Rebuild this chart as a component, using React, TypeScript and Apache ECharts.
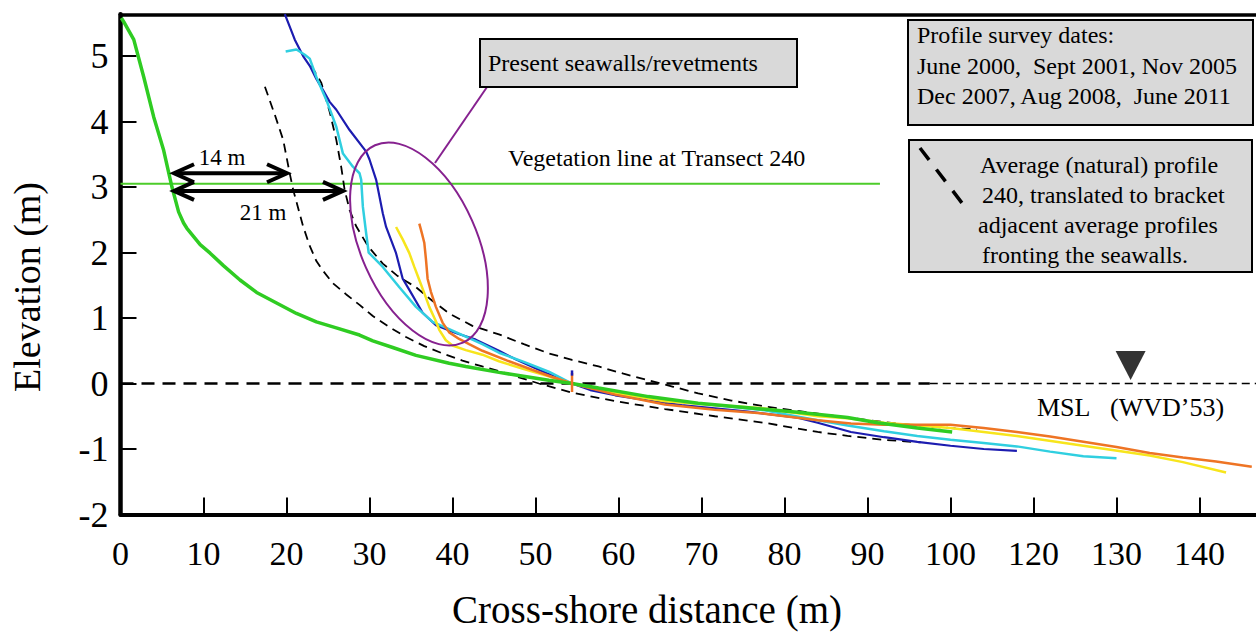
import React, { useEffect, useRef } from "react";
import * as echarts from "echarts";

// ---------- tick labels ----------
const xTickLabels = ["0", "10", "20", "30", "40", "50", "60", "70", "80", "90", "100", "120", "130", "140"];

// ---------- profiles (cross-shore distance m, elevation m) ----------
const greenProfile: number[][] = [
  [0.1, 5.58], [0.4, 5.52], [1.6, 5.25], [2.8, 4.68], [4.0, 4.07], [5.2, 3.56], [6.2, 3.0], [7.0, 2.62],
  [7.6, 2.45], [8.0, 2.37], [9.6, 2.12], [10.8, 1.99], [12.4, 1.8], [14.4, 1.58], [16.4, 1.39], [18.8, 1.23],
  [21.2, 1.07], [23.6, 0.94], [26.0, 0.85], [28.8, 0.74], [30.4, 0.65], [32.8, 0.55], [35.6, 0.43], [39.6, 0.31],
  [41.6, 0.26], [45.6, 0.17], [47.6, 0.13], [51.6, 0.05], [54.4, 0.0], [57.6, -0.07], [63.6, -0.2], [69.6, -0.3],
  [75.6, -0.37], [81.6, -0.44], [87.6, -0.52], [91.2, -0.6], [96.0, -0.68], [100.2, -0.74],
];

const blueProfile: number[][] = [
  [19.8, 5.64], [21.0, 5.25], [22.0, 5.0], [22.8, 4.85], [23.6, 4.65], [24.4, 4.48], [25.2, 4.3], [26.0, 4.18],
  [27.6, 3.87], [29.6, 3.54], [30.0, 3.42], [30.8, 3.11], [31.6, 2.6], [32.0, 2.39], [33.2, 1.99], [34.0, 1.6],
  [34.8, 1.43], [36.4, 1.08], [38.0, 0.89], [40.4, 0.77], [42.8, 0.67], [45.6, 0.5], [47.6, 0.37], [50.4, 0.21],
  [52.4, 0.1], [54.4, 0.0], [56.6, -0.1], [59.6, -0.18], [63.6, -0.26], [67.6, -0.33], [71.6, -0.38], [75.6, -0.43],
  [81.6, -0.52], [84.0, -0.6], [88.0, -0.74], [92.0, -0.82], [96.0, -0.89], [100.0, -0.95], [104.0, -1.0], [108.0, -1.03],
];

const cyanProfile: number[][] = [
  [19.9, 5.07], [21.2, 5.1], [22.2, 5.02], [22.8, 4.96], [23.6, 4.68], [24.8, 4.33], [26.0, 3.92], [26.8, 3.51],
  [28.0, 3.31], [28.8, 3.21], [29.0, 3.11], [29.2, 2.7], [29.6, 2.29], [29.9, 2.0], [31.6, 1.78], [33.6, 1.47],
  [35.6, 1.17], [37.6, 0.94], [39.6, 0.83], [43.6, 0.6], [45.6, 0.47], [48.6, 0.33], [51.6, 0.18], [54.4, 0.0],
  [59.6, -0.15], [65.6, -0.26], [71.6, -0.33], [77.6, -0.41], [84.0, -0.56], [87.6, -0.64], [92.0, -0.73],
  [96.0, -0.8], [100.0, -0.86], [104.0, -0.91], [108.0, -0.96], [112.0, -1.04], [116.0, -1.11], [120.0, -1.14],
];

const yellowProfile: number[][] = [
  [33.2, 2.39], [34.0, 2.2], [34.8, 1.99], [35.4, 1.78], [36.0, 1.58], [36.6, 1.38], [37.2, 1.17], [38.0, 0.95],
  [38.4, 0.82], [39.2, 0.66], [40.0, 0.58], [41.6, 0.51], [43.6, 0.44], [45.6, 0.34], [48.6, 0.22], [51.6, 0.11],
  [54.4, 0.0], [59.6, -0.14], [65.6, -0.27], [71.6, -0.33], [77.6, -0.38], [84.0, -0.5], [87.6, -0.53], [92.0, -0.6],
  [100.0, -0.68], [108.0, -0.8], [116.0, -0.95], [124.0, -1.1], [128.0, -1.2], [133.2, -1.36],
];

const orangeProfile: number[][] = [
  [36.0, 2.44], [36.3, 2.3], [36.6, 2.15], [36.8, 1.9], [37.0, 1.6], [37.4, 1.4], [38.0, 1.17], [38.8, 0.93],
  [39.6, 0.78], [40.8, 0.68], [42.0, 0.6], [43.6, 0.5], [46.6, 0.35], [49.6, 0.21], [52.0, 0.1], [54.4, 0.0],
  [59.6, -0.17], [65.6, -0.32], [71.6, -0.4], [77.6, -0.46], [84.0, -0.56], [88.0, -0.61], [92.0, -0.63],
  [96.0, -0.63], [100.0, -0.63], [104.0, -0.68], [108.0, -0.74], [112.0, -0.81], [116.0, -0.89], [120.0, -0.97],
  [124.0, -1.06], [128.0, -1.13], [132.0, -1.19], [136.3, -1.27],
];

// average (natural) profile 240, translated (dashed)
const dashedLower: number[][] = [
  [17.4, 4.53], [18.6, 4.1], [19.6, 3.72], [20.4, 3.2], [20.8, 2.96], [22.0, 2.4], [22.8, 2.1], [23.6, 1.87],
  [24.4, 1.72], [25.6, 1.53], [27.2, 1.36], [28.8, 1.2], [30.4, 1.03], [32.4, 0.86], [34.4, 0.71], [36.6, 0.57],
  [38.8, 0.46], [41.2, 0.35], [43.6, 0.26], [45.6, 0.19], [50.4, 0.0], [54.4, -0.14], [59.6, -0.27], [65.6, -0.39],
  [71.6, -0.5], [77.6, -0.6], [84.0, -0.74], [87.6, -0.8], [92.0, -0.86], [96.4, -0.9],
];

const dashedUpper: number[][] = [
  [23.0, 4.85], [24.2, 4.59], [25.2, 4.15], [26.0, 3.72], [26.6, 3.3], [27.0, 2.96], [27.6, 2.65], [28.4, 2.4],
  [29.8, 2.1], [31.6, 1.83], [33.4, 1.64], [35.6, 1.47], [37.6, 1.26], [39.6, 1.07], [42.4, 0.88], [45.6, 0.75],
  [48.6, 0.6], [51.6, 0.46], [54.4, 0.36], [57.6, 0.26], [60.6, 0.15], [63.6, 0.05], [66.6, -0.05], [69.6, -0.15],
  [73.6, -0.26], [77.6, -0.35], [81.6, -0.42], [84.0, -0.46], [87.6, -0.52], [92.0, -0.59], [96.0, -0.64],
  [100.0, -0.68], [103.2, -0.7],
];

// reference lines
const vegetationLine: number[][] = [[0, 3.05], [91.5, 3.05]];
const mslLeft: number[][] = [[0, 0], [97.5, 0]];
const mslRight: number[][] = [[97.5, 0], [140, 0]];
const orangeTick: number[][] = [[54.4, 0.16], [54.4, -0.13]];
const blueTick: number[][] = [[54.4, 0.2], [54.4, 0.12]];
const seawallConnector: number[][] = [[44.16, 4.527], [37.89, 3.366]];

// annotations
const arrowData: number[][] = [
  // start x, end x, elevation
  [6.45, 20.06, 3.21],
  [6.45, 26.8, 2.94],
];
const seawallEllipse: number[][] = [[35.96, 2.13]];
const mslMarker: number[][] = [[121.7, 0.275]];

const SERIF = "Liberation Serif, Times New Roman, serif";

function lineSeries(data: number[][], color: string, width: number, dash?: number[] | string, z = 2) {
  return {
    type: "line",
    data,
    symbol: "none",
    showSymbol: false,
    silent: true,
    z,
    lineStyle: { color, width, type: dash || "solid", cap: "butt" },
  };
}

function textEl(text: string, x: number, y: number, size: number, align = "left", rotation = 0) {
  return {
    type: "text",
    x,
    y,
    rotation,
    z: 20,
    style: {
      text,
      fontSize: size,
      fontFamily: SERIF,
      fill: "#000",
      align,
      verticalAlign: "middle",
    },
  };
}

export default function App() {
  const ref = useRef<HTMLDivElement>(null);

  useEffect(() => {
    if (!ref.current) return;
    const chart = echarts.init(ref.current, null, { renderer: "svg" });

    const option: any = {
      animation: false,
      backgroundColor: "#fff",
      grid: {
        left: 120.5,
        top: 14.3,
        width: 1162,
        height: 500.2,
        containLabel: false,
        outerBoundsMode: "none",
      },
      xAxis: [
        {
          type: "value",
          min: 0,
          max: 140,
          interval: 10,
          position: "bottom",
          axisLine: { show: true, onZero: false, lineStyle: { color: "#000", width: 4 } },
          axisTick: { show: true, inside: true, length: 17, lineStyle: { color: "#000", width: 2 } },
          splitLine: { show: false },
          axisLabel: {
            show: true,
            margin: 22,
            fontSize: 34,
            fontFamily: SERIF,
            color: "#000",
            formatter: (v: number) => {
              const i = Math.round(v / 10);
              return Math.abs(v - i * 10) < 1e-6 && i < xTickLabels.length ? xTickLabels[i] : "";
            },
          },
        },
        {
          type: "value",
          min: 0,
          max: 140,
          position: "top",
          axisLine: { show: true, onZero: false, lineStyle: { color: "#000", width: 3.5 } },
          axisTick: { show: false },
          axisLabel: { show: false },
          splitLine: { show: false },
        },
      ],
      yAxis: {
        type: "value",
        min: -2,
        max: 5.637,
        interval: 1,
        axisLine: { show: true, onZero: false, lineStyle: { color: "#000", width: 4.5 } },
        axisTick: { show: true, inside: true, length: 16, lineStyle: { color: "#000", width: 2 } },
        splitLine: { show: false },
        axisLabel: {
          margin: 12,
          fontSize: 36,
          fontFamily: SERIF,
          color: "#000",
          formatter: (v: number) => (Math.abs(v - Math.round(v)) < 1e-6 ? String(Math.round(v)) : ""),
        },
      },
      series: [
        lineSeries(mslLeft, "#000", 2.5, [13, 8], 1),
        lineSeries(mslRight, "#000", 1.6, [8, 5], 1),
        lineSeries(vegetationLine, "#4ccc2a", 2, undefined, 1),
        lineSeries(dashedLower, "#000", 1.8, [9, 6], 2),
        lineSeries(dashedUpper, "#000", 1.8, [9, 6], 2),
        lineSeries(blueProfile, "#1c1cb0", 2.2, undefined, 3),
        lineSeries(cyanProfile, "#30cfe0", 2.5, undefined, 3),
        lineSeries(yellowProfile, "#f7e51c", 2.5, undefined, 3),
        lineSeries(orangeProfile, "#ee7424", 2.5, undefined, 3),
        lineSeries(greenProfile, "#2fcc22", 3.5, undefined, 4),
        lineSeries(orangeTick, "#ee7424", 2.5, undefined, 5),
        lineSeries(blueTick, "#1c1cb0", 2.5, undefined, 5),
        lineSeries(seawallConnector, "#86218f", 2, undefined, 5),
        {
          type: "custom",
          data: seawallEllipse,
          clip: false,
          silent: true,
          z: 5,
          encode: { x: 0, y: 1 },
          renderItem: (_p: any, api: any) => {
            const c = api.coord([api.value(0), api.value(1)]);
            return {
              type: "ellipse",
              x: c[0],
              y: c[1],
              rotation: (-66 * Math.PI) / 180,
              shape: { cx: 0, cy: 0, rx: 108, ry: 58 },
              style: { fill: "none", stroke: "#86218f", lineWidth: 2 },
            };
          },
        },
        {
          type: "custom",
          data: arrowData,
          clip: false,
          silent: true,
          z: 6,
          encode: { x: [0, 1], y: 2 },
          renderItem: (_p: any, api: any) => {
            const y = api.value(2);
            const p1 = api.coord([api.value(0), y]);
            const p2 = api.coord([api.value(1), y]);
            const hw = 20;
            const hh = 9;
            const st = { stroke: "#000", lineWidth: 4, fill: "none", lineJoin: "miter" };
            return {
              type: "group",
              children: [
                { type: "line", shape: { x1: p1[0] + 2, y1: p1[1], x2: p2[0] - 2, y2: p2[1] }, style: st },
                {
                  type: "polyline",
                  shape: { points: [[p1[0] + hw, p1[1] - hh], [p1[0], p1[1]], [p1[0] + hw, p1[1] + hh]] },
                  style: st,
                },
                {
                  type: "polyline",
                  shape: { points: [[p2[0] - hw, p2[1] - hh], [p2[0], p2[1]], [p2[0] - hw, p2[1] + hh]] },
                  style: st,
                },
              ],
            };
          },
        },
        {
          type: "scatter",
          data: mslMarker,
          symbol: "triangle",
          symbolRotate: 180,
          symbolSize: [30, 29],
          silent: true,
          z: 6,
          itemStyle: { color: "#000" },
        },
      ],
      graphic: [
        // axis titles
        textEl("Elevation (m)", 27, 287, 38, "center", Math.PI / 2),
        textEl("Cross-shore distance (m)", 647, 609, 39, "center"),
        // seawall label box
        {
          type: "rect",
          z: 15,
          shape: { x: 480, y: 39, width: 317, height: 48 },
          style: { fill: "#d9d9d9", stroke: "#000", lineWidth: 2 },
        },
        textEl("Present seawalls/revetments", 488, 63, 24),
        textEl("Vegetation line at Transect 240", 508, 158, 24),
        // survey dates box
        {
          type: "rect",
          z: 15,
          shape: { x: 908, y: 20, width: 345, height: 105 },
          style: { fill: "#d9d9d9", stroke: "#000", lineWidth: 2 },
        },
        textEl("Profile survey dates:", 917, 35, 24),
        textEl("June 2000,  Sept 2001, Nov 2005", 917, 66, 24),
        textEl("Dec 2007, Aug 2008,  June 2011", 917, 96, 24),
        // dashed legend box
        {
          type: "rect",
          z: 15,
          shape: { x: 909, y: 140, width: 343, height: 132 },
          style: { fill: "#d9d9d9", stroke: "#000", lineWidth: 2 },
        },
        {
          type: "line",
          z: 16,
          shape: { x1: 920, y1: 148, x2: 962, y2: 203 },
          style: { stroke: "#000", lineWidth: 3.5, lineDash: [15, 12] },
        },
        textEl("Average (natural) profile", 980, 165, 24),
        textEl("240, translated to bracket", 982, 195, 24),
        textEl("adjacent average profiles", 978, 225, 24),
        textEl("fronting the seawalls.", 982, 255, 24),
        // arrow labels
        textEl("14 m", 222, 157, 23, "center"),
        textEl("21 m", 263, 212, 23, "center"),
        // MSL label
        textEl("MSL", 1037, 407, 26),
        textEl("(WVD\u201953)", 1110, 407, 26),
      ],
    };

    chart.setOption(option);
    return () => chart.dispose();
  }, []);

  return <div ref={ref} style={{ position: "absolute", left: 0, top: 0, width: 1256, height: 633 }} />;
}
